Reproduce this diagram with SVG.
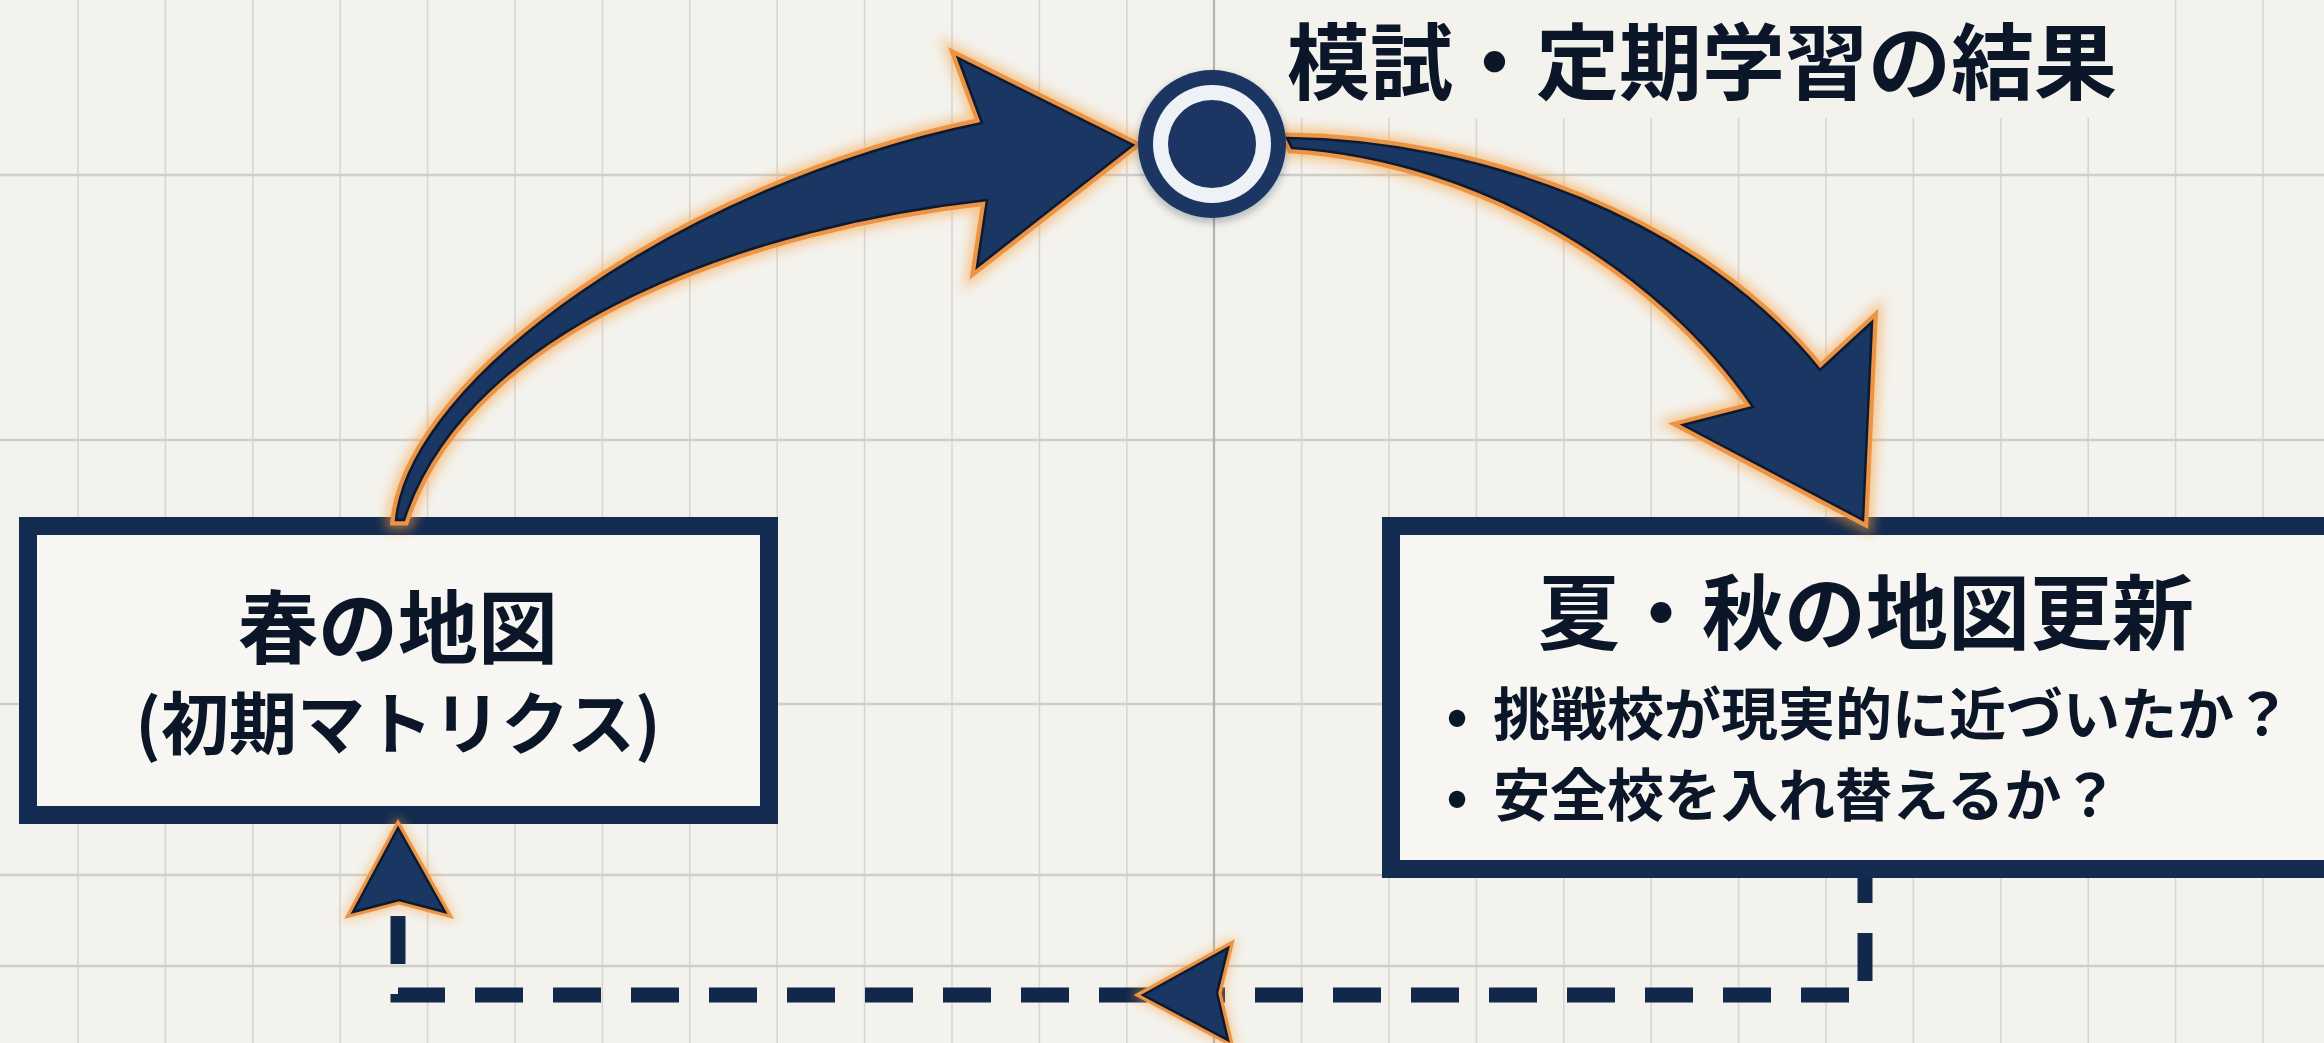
<svg xmlns="http://www.w3.org/2000/svg" width="2324" height="1043" viewBox="0 0 2324 1043">
<style>
.gv{stroke:#d7d6d1;stroke-width:1.6}
.gh{stroke:#cfcec9;stroke-width:2.6}
.gc{stroke:#b3b3b0;stroke-width:2.2}
.box{fill:#f7f6f2;stroke:#132b50;stroke-width:18}
.t{font-family:"Noto Sans CJK JP","Noto Sans",sans-serif;font-weight:700;fill:#0b1629}
.glow{fill:none;stroke:#f8a040;stroke-width:20;stroke-linejoin:miter;opacity:0.55;filter:url(#blur)}
.edge{fill:none;stroke:#ec9445;stroke-width:11;stroke-linejoin:miter}
.fillA{fill:#1a3662;stroke:#0d1a30;stroke-width:2.5;stroke-linejoin:miter}
.dash{fill:none;stroke:#12284a;stroke-width:15;stroke-dasharray:48 30;stroke-dashoffset:23}
</style>
<defs>
<filter id="blur" x="-20%" y="-20%" width="140%" height="140%"><feGaussianBlur stdDeviation="6"/></filter>
<filter id="shadow" x="-30%" y="-30%" width="160%" height="160%"><feDropShadow dx="0" dy="4" stdDeviation="4" flood-color="#0d1a30" flood-opacity="0.3"/></filter>
<path id="arrow1" d="M396 520 C410 380 680 185 982 123 L958 58 L1133 145 L977 267 L987 200 C760 225 470 320 404 520 Z"/>
<path id="arrow2" d="M1287 138 C1480 140 1700 220 1820 370 L1872 322 L1863 520 L1683 425 L1753 407 C1660 270 1480 160 1292 148 Z"/>
<path id="headUp" d="M398 828 L445 912 L399 900 L353 912 Z"/>
<path id="headLeft" d="M1143 995 L1228 948 L1217 993 L1228 1040 Z"/>
</defs>

<rect x="0" y="0" width="2324" height="1043" fill="#f3f2ed"/>

<g id="grid">
<line class="gv" x1="78" y1="0" x2="78" y2="1043"/>
<line class="gv" x1="165.4" y1="0" x2="165.4" y2="1043"/>
<line class="gv" x1="252.8" y1="0" x2="252.8" y2="1043"/>
<line class="gv" x1="340.2" y1="0" x2="340.2" y2="1043"/>
<line class="gv" x1="427.6" y1="0" x2="427.6" y2="1043"/>
<line class="gv" x1="515" y1="0" x2="515" y2="1043"/>
<line class="gv" x1="602.4" y1="0" x2="602.4" y2="1043"/>
<line class="gv" x1="689.8" y1="0" x2="689.8" y2="1043"/>
<line class="gv" x1="777.2" y1="0" x2="777.2" y2="1043"/>
<line class="gv" x1="864.6" y1="0" x2="864.6" y2="1043"/>
<line class="gv" x1="952" y1="0" x2="952" y2="1043"/>
<line class="gv" x1="1039.4" y1="0" x2="1039.4" y2="1043"/>
<line class="gv" x1="1126.8" y1="0" x2="1126.8" y2="1043"/>
<line class="gv" x1="1301.6" y1="0" x2="1301.6" y2="1043"/>
<line class="gv" x1="1389" y1="0" x2="1389" y2="1043"/>
<line class="gv" x1="1476.4" y1="0" x2="1476.4" y2="1043"/>
<line class="gv" x1="1563.8" y1="0" x2="1563.8" y2="1043"/>
<line class="gv" x1="1651.2" y1="0" x2="1651.2" y2="1043"/>
<line class="gv" x1="1738.6" y1="0" x2="1738.6" y2="1043"/>
<line class="gv" x1="1826" y1="0" x2="1826" y2="1043"/>
<line class="gv" x1="1913.4" y1="0" x2="1913.4" y2="1043"/>
<line class="gv" x1="2000.8" y1="0" x2="2000.8" y2="1043"/>
<line class="gv" x1="2088.2" y1="0" x2="2088.2" y2="1043"/>
<line class="gv" x1="2175.6" y1="0" x2="2175.6" y2="1043"/>
<line class="gv" x1="2263" y1="0" x2="2263" y2="1043"/>
<line class="gh" x1="0" y1="175" x2="2324" y2="175"/>
<line class="gh" x1="0" y1="440" x2="2324" y2="440"/>
<line class="gh" x1="0" y1="704" x2="2324" y2="704"/>
<line class="gh" x1="0" y1="875" x2="2324" y2="875"/>
<line class="gh" x1="0" y1="966" x2="2324" y2="966"/>
<line class="gc" x1="1214" y1="0" x2="1214" y2="1043"/>
<rect x="1255" y="0" width="870" height="118" fill="#f3f2ed"/>
</g>

<g id="title">
<text class="t" x="1287" y="93" font-size="83">模試・定期学習の結果</text>
</g>

<g id="spring-map">
<rect class="box" x="28" y="526" width="741" height="289"/>
<text class="t" x="398" y="657" font-size="80" text-anchor="middle">春の地図</text>
<text class="t" x="398" y="749" font-size="68" text-anchor="middle">(初期マトリクス)</text>
</g>

<g id="summer-autumn-update">
<rect class="box" x="1391" y="526" width="960" height="343"/>
<text class="t" x="1866" y="643" font-size="82" text-anchor="middle">夏・秋の地図更新</text>
<text class="t" x="1457" y="735" font-size="57" text-anchor="middle">•</text>
<text class="t" x="1493" y="735" font-size="57">挑戦校が現実的に近づいたか？</text>
<text class="t" x="1457" y="816" font-size="57" text-anchor="middle">•</text>
<text class="t" x="1493" y="816" font-size="57">安全校を入れ替えるか？</text>
</g>

<g id="connectors">
<use href="#arrow1" class="glow"/>
<use href="#arrow2" class="glow"/>
<use href="#arrow1" class="edge"/>
<use href="#arrow2" class="edge"/>
<use href="#arrow1" class="fillA"/>
<use href="#arrow2" class="fillA"/>
<path class="dash" d="M1865 878 V995 H398 V915"/>
<use href="#headUp" class="glow" style="stroke-width:12"/>
<use href="#headLeft" class="glow" style="stroke-width:12"/>
<use href="#headUp" class="edge" style="stroke-width:9"/>
<use href="#headLeft" class="edge" style="stroke-width:9"/>
<use href="#headUp" class="fillA"/>
<use href="#headLeft" class="fillA"/>
</g>

<g id="results-node" filter="url(#shadow)">
<circle cx="1212" cy="144" r="74" fill="#1a3662"/>
<circle cx="1212" cy="144" r="59" fill="#eef1f5"/>
<circle cx="1212" cy="144" r="44" fill="#1a3662"/>
</g>
</svg>
